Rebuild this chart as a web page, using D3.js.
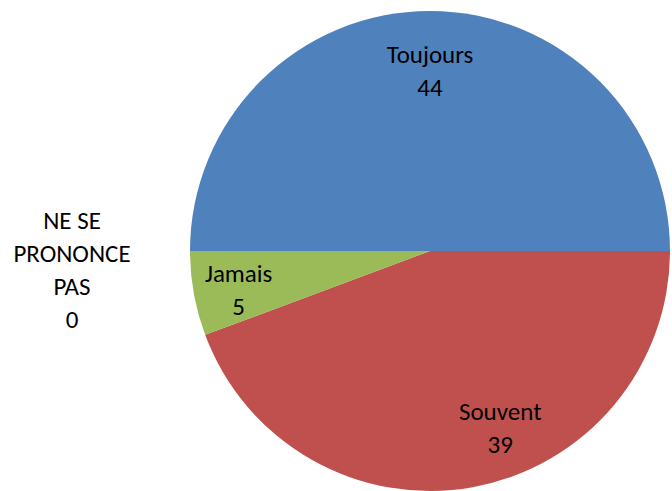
<!DOCTYPE html>
<html>
<head>
<meta charset="utf-8">
<script src="https://cdn.jsdelivr.net/npm/d3@7"></script>
<style>
  html, body { margin: 0; padding: 0; background: #fff; }
  text { font-family: Carlito, "Open Sans", sans-serif; fill: #000; }
</style>
</head>
<body>
<svg id="pie-chart"></svg>
<script>
const categories = ["Toujours", "Souvent", "Jamais", "NE SE PRONONCE PAS"];
const values = [44, 39, 5, 0];
const colors = ["#4F81BD", "#C0504D", "#9BBB59", "#8064A2"];

const svgWidth = 672, svgHeight = 491;
const cx = 430, cy = 251, radius = 240;
const fontSize = 25, lineGap = 33;

const svg = d3.select('#pie-chart')
    .attr("width", svgWidth)
    .attr("height", svgHeight);

const data = categories.map((c, i) => ({label: c, value: values[i], color: colors[i]}));

// start at 9 o'clock, go clockwise
const pie = d3.pie()
    .value(d => d.value)
    .sort(null)
    .startAngle(-Math.PI / 2)
    .endAngle(Math.PI * 1.5);

const arcs = pie(data);
const arc = d3.arc().innerRadius(0).outerRadius(radius);

const g = svg.append("g").attr("transform", `translate(${cx},${cy})`);

g.selectAll("path")
    .data(arcs.filter(d => d.value > 0))
    .enter()
    .append("path")
    .attr("d", arc)
    .attr("fill", d => d.data.color);

// label placement, roughly as excel does it
const labelRadius = [0.75, 0.78, 0.84];
const labelShift = [[0, 0], [37, -7], [7, 3]];

arcs.forEach((d, i) => {
    let lines, x, y;
    if (d.value > 0) {
        const a = (d.startAngle + d.endAngle) / 2;
        x = Math.sin(a) * radius * labelRadius[i] + labelShift[i][0];
        y = -Math.cos(a) * radius * labelRadius[i] + labelShift[i][1];
        lines = [d.data.label, String(d.data.value)];
    } else {
        // empty slice: label sits outside, left of the pie
        x = 72 - cx;
        y = 270 - cy;
        lines = ["NE SE", "PRONONCE", "PAS", String(d.data.value)];
    }
    const t = g.append("text")
        .attr("text-anchor", "middle")
        .style("font-size", fontSize + "px");
    lines.forEach((l, k) => {
        t.append("tspan")
            .attr("x", x)
            .attr("y", y + (k - (lines.length - 1) / 2) * lineGap)
            .attr("dy", "0.35em")
            .text(l);
    });
});
</script>
</body>
</html>
